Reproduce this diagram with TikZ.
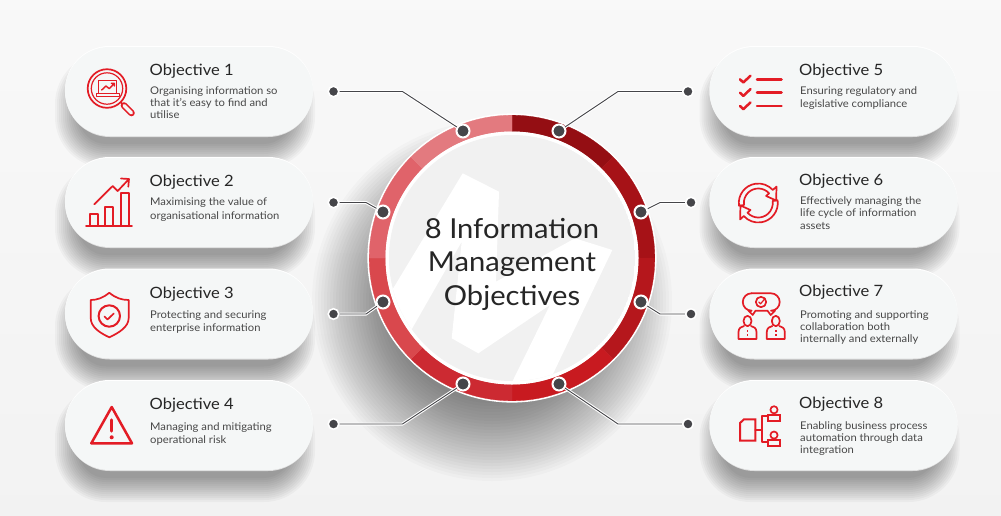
\documentclass[tikz,border=0pt]{standalone}
\usepackage{fontspec}
\setmainfont[FakeStretch=1.06]{Lato}
\usetikzlibrary{shapes.misc}
\definecolor{redi}{HTML}{E31C25}
\definecolor{darkc}{HTML}{454549}
\definecolor{pillc}{HTML}{F5F7F7}
\newcommand{\pillshadow}[2]{%
  \foreach \s in {13,11,...,-11}{%
    \pgfmathsetmacro{\rr}{38+\s}%
    \fill[black,opacity=.032,rounded corners=\rr pt] (#1-117-\s-4,#2-44.5-\s+19) rectangle (#1+117+\s-4,#2+44.5+\s+19);
  }}
\newcommand{\dblock}[2]{\vtop{\baselineskip=#1pt\lineskiplimit=-20pt #2}}
\tikzset{
  pill/.style={rounded rectangle,fill=pillc,minimum width=248pt,minimum height=89pt,inner sep=0pt},
  pilltop/.style={rounded rectangle,fill=white,minimum width=248pt,minimum height=89pt,inner sep=0pt},
  pillbot/.style={rounded rectangle,fill=black!13,minimum width=247pt,minimum height=89pt,inner sep=0pt},
  objt/.style={anchor=base west,inner sep=0pt,font=\fontsize{15.6}{18}\selectfont,text=black!85},
  objd/.style={anchor=base west,inner sep=0pt,font=\fontsize{10.6}{12}\selectfont,text=black!72},
  conn/.style={draw=darkc,line width=.9pt,preaction={draw=white,line width=3pt}},
  outdot/.style={circle,fill=darkc,draw=white,line width=1.6pt,minimum size=10.5pt,inner sep=0pt},
  ringdot/.style={circle,fill=darkc,draw=white,line width=2pt,minimum size=13pt,inner sep=0pt},
  ic/.style={draw=redi,line width=1.7pt,line join=round,line cap=round},
  icb/.style={draw=redi,line width=2.5pt,line join=round,line cap=round},
}
\begin{document}
\begin{tikzpicture}[x=1pt,y=-1pt]
\useasboundingbox (0,0) rectangle (1001,515);
\shade[top color=black!2.5,bottom color=black!5] (0,0) rectangle (1001,515);
% circle shadow
\foreach \s in {180,177,...,100}{%
  \fill[black,opacity=.02] (492,301) circle[radius=\s];
}
% pill shadows
\foreach \cy in {91.5,202.5,314,425.5}{\pillshadow{189}{\cy}\pillshadow{833.5}{\cy}}
% pills
\foreach \nm/\cx/\cy in {1/189/91.5,2/189/202.5,3/189/314,4/189/425.5,5/833.5/91.5,6/833.5/202.5,7/833.5/314,8/833.5/425.5}{
  \node[pilltop] (pt\nm) at (\cx,\cy-1) {};
  \node[pillbot] (pb\nm) at (\cx,\cy+1) {};
  \node[pill] (p\nm) at (\cx,\cy) {};
}
% central disk
\fill[white] (512,258) circle[radius=144.6];
\begin{scope}[shift={(512,258)},y=1pt]
  \foreach \a/\c in {90/940E13,45/A61217,0/B5171C,-45/C81A20,-90/CC2A32,-135/D9484D,-180/E0636A,-225/E37A7F}{
    \definecolor{segc}{HTML}{\c}
    \pgfmathsetmacro{\b}{\a-45}
    \filldraw[segc,line width=.3pt] (\a:142.8) arc[start angle=\a,end angle=\b,radius=142.8] -- (\b:126.5) arc[start angle=\b,end angle=\a,radius=126.5] -- cycle;
  }
\end{scope}
\fill[white] (512,258) circle[radius=126.5];
\begin{scope}
  \clip (512,258) circle[radius=123];
  \fill[black!5.5] (512,258) circle[radius=123];
  \fill[white] (462.7,173.3) -- (499,191.7) -- (496,281.7) -- (575,238.3) -- (612.3,250) -- (545.3,390) -- (503.3,400) -- (550,305) -- (478.3,353.3) -- (451.7,338.3) -- (461.7,241.7) -- (403.3,344) -- (370,326.7) -- cycle;
\end{scope}
\node[align=center,inner sep=0pt,font=\fontsize{27.5}{33.2}\selectfont,text=black!85] (title) at (512,264.3) {8 Information\\Management\\Objectives};
% connectors
\node[ringdot] (r1) at (463,131) {};
\node[ringdot] (r2) at (383,212) {};
\node[ringdot] (r3) at (383,302) {};
\node[ringdot] (r4) at (463,384) {};
\node[ringdot] (r5) at (559,131) {};
\node[ringdot] (r6) at (641,212) {};
\node[ringdot] (r7) at (641,302) {};
\node[ringdot] (r8) at (559,384) {};
\node[outdot] (o1) at (333.5,91.5) {};
\node[outdot] (o2) at (333.5,202.5) {};
\node[outdot] (o3) at (333.5,314) {};
\node[outdot] (o4) at (333.5,424) {};
\node[outdot] (o5) at (688,91.5) {};
\node[outdot] (o6) at (691,202.5) {};
\node[outdot] (o7) at (691,314) {};
\node[outdot] (o8) at (688,424) {};
\coordinate (b1) at (402.5,91.5);
\coordinate (b2) at (366,202.5);
\coordinate (b3) at (366,314);
\coordinate (b4) at (402.5,424);
\coordinate (b5) at (618,91.5);
\coordinate (b6) at (660,202.5);
\coordinate (b7) at (660,314);
\coordinate (b8) at (618,424);
\foreach \i in {1,...,8}{
  \draw[conn] (o\i) -- (b\i) -- (r\i);
}
% texts
\node[objt] (t1) at (149.5,75) {Objective 1};
\node[objd] (d1) at (150,94) {\dblock{12.2}{\hbox{Organising information so}\hbox{that it's easy to find and}\hbox{utilise}}};
\node[objt] (t2) at (149.5,186) {Objective 2};
\node[objd] (d2) at (150,205.5) {\dblock{14.4}{\hbox{Maximising the value of}\hbox{organisational information}}};
\node[objt] (t3) at (149.5,298) {Objective 3};
\node[objd] (d3) at (150,318) {\dblock{13.8}{\hbox{Protecting and securing}\hbox{enterprise information}}};
\node[objt] (t4) at (149.5,409) {Objective 4};
\node[objd] (d4) at (150,430) {\dblock{13.8}{\hbox{Managing and mitigating}\hbox{operational risk}}};
\node[objt] (t5) at (799,75) {Objective 5};
\node[objd] (d5) at (800,94) {\dblock{13.6}{\hbox{Ensuring regulatory and}\hbox{legislative compliance}}};
\node[objt] (t6) at (799,185) {Objective 6};
\node[objd] (d6) at (800,204.7) {\dblock{12.2}{\hbox{Effectively managing the}\hbox{life cycle of information}\hbox{assets}}};
\node[objt] (t7) at (799,296.5) {Objective 7};
\node[objd] (d7) at (800,318) {\dblock{12.4}{\hbox{Promoting and supporting}\hbox{collaboration both}\hbox{internally and externally}}};
\node[objt] (t8) at (799,408) {Objective 8};
\node[objd] (d8) at (800,429.3) {\dblock{12.3}{\hbox{Enabling business process}\hbox{automation through data}\hbox{integration}}};
% icon 1
\draw[ic] (107,88.5) circle[radius=19.3];
\draw[ic,line width=1.2pt] (107,88.5) circle[radius=15.7];
\draw[ic] (121,102.5) -- (124,105.5);
\draw[redi,line width=6.6pt,line cap=round] (124,105.5) -- (131.5,113);
\draw[pillc,line width=3.4pt,line cap=round] (124,105.5) -- (131.5,113);
\draw[ic,line width=1.3pt] (98.3,93.3) -- (98.3,80.7) -- (116.7,80.7) -- (116.7,93.3);
\draw[ic,line width=1.3pt] (96.7,93.3) rectangle (119.3,96.5);
\draw[ic,line width=1.4pt] (101.7,90) -- (106,86) -- (109.3,88.7) -- (114.3,83.3) (111.3,83.3) -- (114.3,83.3) -- (114.3,86);
% icon 2
\draw[ic] (86,226) -- (132,226);
\draw[ic] (90,226) -- (90,214.3) -- (98.3,214.3) -- (98.3,226);
\draw[ic] (105,226) -- (105,206.7) -- (113.3,206.7) -- (113.3,226);
\draw[ic] (120.7,226) -- (120.7,192.7) -- (128.7,192.7) -- (128.7,226);
\draw[ic] (94.3,204.3) -- (112.7,186) -- (117.7,191) -- (129,179) (121,178.5) -- (129,179) -- (128.3,186.7);
% icon 3
\draw[ic] (109.3,292.7) .. controls (103,298) and (97,300) .. (90.7,300) -- (90.7,318) .. controls (90.7,327) and (100,333) .. (109.3,337.3) .. controls (118.6,333) and (128.7,327) .. (128.7,318) -- (128.7,300) .. controls (121.6,300) and (115.6,298) .. (109.3,292.7) -- cycle;
\draw[ic,line width=2pt] (109.3,316) circle[radius=10.7];
\draw[ic] (104.5,316.5) -- (107.5,319.5) -- (113.8,313.5);
% icon 4
\draw[icb] (111.7,407) -- (132,443.3) -- (91.3,443.3) -- cycle;
\draw[redi,line width=3.4pt,line cap=round] (111.7,420) -- (111.7,431);
\fill[redi] (111.7,437.3) circle[radius=2];
% icon 5
\foreach \y in {79.3,92.7,106}{
  \draw[icb] (740,\y) -- (743.3,\y+3.2) -- (750.5,\y-3.6);
  \draw[icb] (757,\y) -- (781.5,\y);
}
% icon 6
\begin{scope}[shift={(758.3,203)},y=1pt]
  \foreach \r in {0,180}{
    \begin{scope}[rotate=\r]
      \draw[ic] (188:19.5) arc[start angle=188,end angle=42,radius=19.5] -- (42:24.5) -- (8:18) -- (42:10.5) -- (42:14.5) arc[start angle=42,end angle=188,radius=14.5] -- cycle;
    \end{scope}
  }
\end{scope}
% icon 7
\draw[ic] (751.5,293.3) -- (771,293.3) arc[start angle=-90,end angle=90,radius=8.7] -- (775,310.7) -- (770.7,315) -- (767.5,310.7) -- (755.5,310.7) -- (752.7,315) -- (748.5,310.7) -- (751.5,310.7);
\draw[ic] (751.5,293.3) arc[start angle=-90,end angle=-270,radius=8.7];
\draw[ic] (761,302) circle[radius=5.2];
\draw[ic,line width=1.2pt] (758.8,302) -- (760.6,303.8) -- (765,298.5);
\foreach \x in {747.5,775.8}{
  \draw[ic] (\x,321) ellipse[x radius=4,y radius=5.2];
  \draw[ic] (\x-9,339) -- (\x-9,332) .. controls (\x-9,328) and (\x-6,326.5) .. (\x-3.5,326) (\x+3.5,326) .. controls (\x+6,326.5) and (\x+9,328) .. (\x+9,332) -- (\x+9,339) -- (\x-9,339);
  \fill[redi] (\x-.7,329.5) rectangle (\x+.7,331.5);
  \fill[redi] (\x-.7,333.5) rectangle (\x+.7,335.5);
}
% icon 8
\draw[icb,line width=2pt,line join=miter] (744,419.3) -- (755.3,419.3) -- (755.3,440.7) -- (740,440.7) -- (740,423) -- cycle;
\draw[icb,line width=2pt] (755.3,430) -- (761.7,430) (768,416) -- (761.7,416) -- (761.7,441.7) -- (768,441.7);
\foreach \y in {0,25.3}{
  \draw[ic] (774,409.8+\y) circle[radius=3.6];
  \draw[icb,line width=2pt,line join=miter] (768.3,415+\y) -- (768.3,420.5+\y) -- (780,420.5+\y) -- (780,415+\y) -- cycle;
}
\end{tikzpicture}
\end{document}
